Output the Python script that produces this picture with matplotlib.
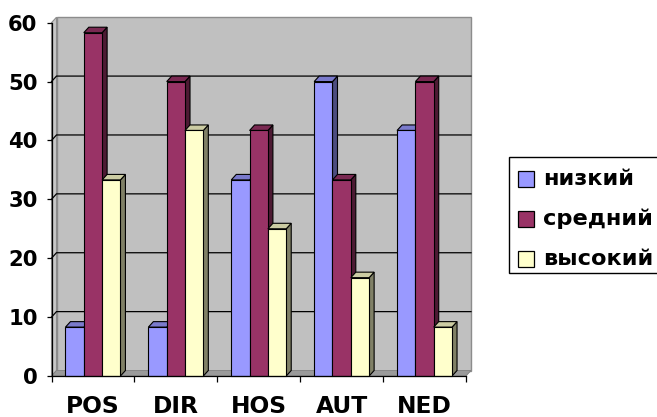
import matplotlib
matplotlib.use("Agg")
import matplotlib.pyplot as plt
from matplotlib.patches import Polygon, Rectangle

# Categories and series values (percent)
categories = ["POS", "DIR", "HOS", "AUT", "NED"]
series_names = ["низкий", "средний", "высокий"]
low = [8.3, 8.3, 33.3, 50.0, 41.7]
mid = [58.3, 50.0, 41.7, 33.3, 50.0]
high = [33.3, 41.7, 25.0, 16.7, 8.3]
y_ticks = [0, 10, 20, 30, 40, 50, 60]

series_values = [low, mid, high]
front_colors = ["#9999FF", "#993366", "#FFFFCC"]


def shade(hex_color, k):
    r, g, b = matplotlib.colors.to_rgb(hex_color)
    return (r * k, g * k, b * k)


W, H = 657, 417
fig = plt.figure(figsize=(W / 100, H / 100), dpi=100)
fig.patch.set_facecolor("white")

plot_left, plot_right = 51.5, 466.0
plot_bottom, plot_top = 376.0, 22.7  # pixel rows (from top)
ax = fig.add_axes([plot_left / W, (H - plot_bottom) / H,
                   (plot_right - plot_left) / W, (plot_bottom - plot_top) / H])
ax.set_xlim(0, len(categories))
ax.set_ylim(0, 60)
ax.set_facecolor("none")

n = len(categories)
px_x = (plot_right - plot_left) / n
px_y = (plot_bottom - plot_top) / 60.0
dx = 5.0 / px_x      # depth offset in data units
dy = 5.5 / px_y
ymax = 60

# back wall, side wall and floor
ax.add_patch(Polygon([(dx, dy), (n + dx, dy), (n + dx, ymax + dy), (dx, ymax + dy)],
                     closed=True, facecolor="#C0C0C0", edgecolor="#8C8C8C",
                     lw=1.0, zorder=0.5, clip_on=False))
ax.add_patch(Polygon([(0, 0), (dx, dy), (dx, ymax + dy), (0, ymax)],
                     closed=True, facecolor="#C8C8C8", edgecolor="#8C8C8C",
                     lw=0.8, zorder=0.6, clip_on=False))
ax.add_patch(Polygon([(0, 0), (n, 0), (n + dx, dy), (dx, dy)],
                     closed=True, facecolor="#9A9A9A", edgecolor="#808080",
                     lw=0.6, zorder=0.7, clip_on=False))

# gridlines on the walls
for v in y_ticks[1:-1]:
    ax.plot([0, dx, n + dx], [v, v + dy, v + dy], color="black", lw=0.9,
            zorder=1, clip_on=False, solid_joinstyle="miter")

# bars with top and side faces
w = 0.221
for j, (vals, col) in enumerate(zip(series_values, front_colors)):
    centers = [i + 0.5 + (j - 1) * w for i in range(n)]
    ax.bar(centers, vals, width=w, color=col, edgecolor="black", lw=0.8,
           zorder=3 + 2 * j, clip_on=False)
    for c, v in zip(centers, vals):
        x0, x1 = c - w / 2, c + w / 2
        ax.add_patch(Polygon([(x1, 0), (x1 + dx, dy), (x1 + dx, v + dy), (x1, v)],
                             closed=True, facecolor=shade(col, 0.5),
                             edgecolor="black", lw=0.8, zorder=2 + 2 * j,
                             clip_on=False))
        ax.add_patch(Polygon([(x0, v), (x1, v), (x1 + dx, v + dy), (x0 + dx, v + dy)],
                             closed=True, facecolor=shade(col, 0.8),
                             edgecolor="black", lw=0.8, zorder=2 + 2 * j,
                             clip_on=False))

# axes
for s in ["top", "right"]:
    ax.spines[s].set_visible(False)
for s in ["left", "bottom"]:
    ax.spines[s].set_color("black")
    ax.spines[s].set_linewidth(0.9)
    ax.spines[s].set_zorder(20)

ax.set_yticks(y_ticks)
ax.set_yticklabels([str(t) for t in y_ticks])
ax.tick_params(axis="y", direction="out", length=3.5, width=0.9, pad=6.5,
               labelsize=15.2)
ax.set_xticks(range(n + 1))
ax.set_xticklabels([""] * (n + 1))
ax.set_xticks([i + 0.5 for i in range(n)], minor=True)
ax.set_xticklabels(categories, minor=True)
ax.tick_params(axis="x", which="major", direction="out", length=4.5, width=0.9)
ax.tick_params(axis="x", which="minor", length=0, pad=13.5, labelsize=16.8)
for lab in ax.get_xticklabels(minor=True) + ax.get_yticklabels():
    lab.set_fontfamily("DejaVu Sans")
    lab.set_fontweight("bold")

# legend drawn in pixel space
ov = fig.add_axes([0, 0, 1, 1], zorder=50)
ov.set_xlim(0, W)
ov.set_ylim(H, 0)
ov.axis("off")
ov.add_patch(Rectangle((508.5, 157), 160, 116, facecolor="white",
                       edgecolor="black", lw=1.0, clip_on=False))
rows = [179, 219, 259]
for name, col, yr in zip(series_names, front_colors, rows):
    ov.add_patch(Rectangle((518, yr - 8), 16, 16, facecolor=col,
                           edgecolor="black", lw=0.9))
    ov.text(543, yr + 6, name, fontsize=16.2, fontweight="bold",
            family="DejaVu Sans", va="baseline", ha="left")

fig.savefig("out.png", dpi=100)
